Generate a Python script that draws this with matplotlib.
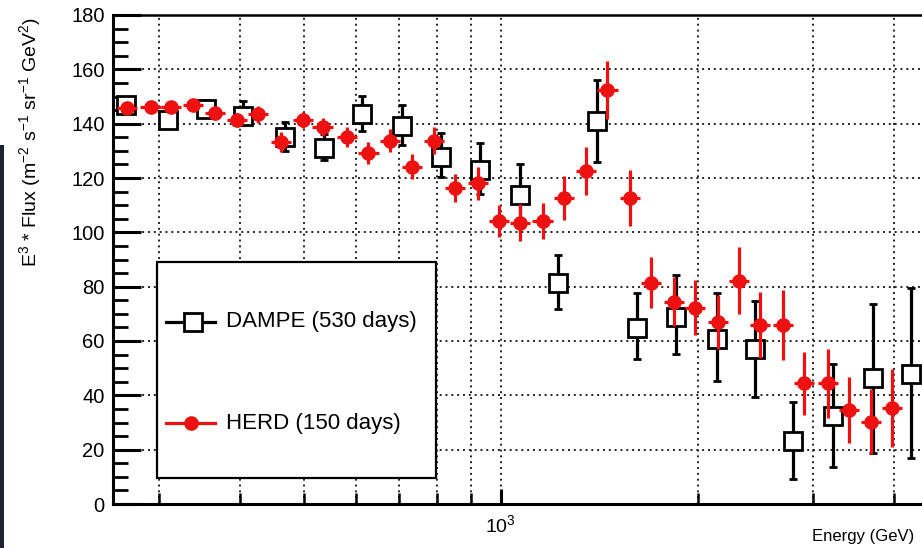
import numpy as np
import matplotlib
matplotlib.use("Agg")
import matplotlib.pyplot as plt
from matplotlib.ticker import FixedLocator, NullFormatter, LogFormatterSciNotation
from matplotlib.lines import Line2D
from matplotlib.patches import Rectangle

plt.rcParams['font.family'] = ['Liberation Sans', 'DejaVu Sans']
plt.rcParams['mathtext.fontset'] = 'custom'
plt.rcParams['mathtext.rm'] = 'Liberation Sans'
plt.rcParams['mathtext.it'] = 'Liberation Sans:italic'
plt.rcParams['mathtext.bf'] = 'Liberation Sans:bold'

# ---------------- data ----------------
dampe_energy = [267.4, 309.9, 354.3, 403.6, 468.0, 536.6, 613.6, 706.6, 810.2, 929.6,
                1070, 1225, 1405, 1618, 1856, 2139, 2448, 2802, 3226, 3706, 4241]
dampe_flux = [147.0, 141.5, 145.4, 143.0, 135.0, 131.2, 143.7, 139.1, 127.8, 123.1,
              113.9, 81.4, 140.9, 64.7, 68.9, 60.9, 57.0, 23.1, 32.5, 46.3, 47.8]
dampe_err_lo = [1.5, 1.0, 3.0, 3.5, 5.0, 4.6, 6.4, 7.0, 7.3, 9.0,
                10.0, 9.7, 15.1, 11.3, 13.7, 15.5, 17.5, 14.0, 18.8, 27.4, 31.0]
dampe_err_hi = [1.5, 1.0, 3.3, 5.3, 5.6, 5.0, 6.5, 7.8, 8.8, 9.7,
                11.1, 10.2, 15.1, 12.9, 15.4, 16.7, 17.8, 14.6, 19.0, 27.3, 31.6]

herd_energy = [268.0, 291.5, 313.3, 338.8, 365.8, 395.6, 426.0, 461.6, 498.0, 534.2,
               581.6, 627.7, 677.2, 730.9, 790.7, 851.4, 924.0, 994.0, 1070, 1159,
               1250, 1350, 1456, 1577, 1696, 1841, 1982, 2147, 2314, 2492,
               2705, 2912, 3162, 3409, 3679, 3970]
herd_flux = [145.6, 146.2, 146.2, 146.9, 143.8, 141.3, 143.4, 133.4, 141.3, 138.7,
             135.2, 129.3, 133.7, 124.2, 133.7, 116.4, 118.0, 104.2, 103.6, 104.2,
             112.7, 122.6, 152.4, 112.7, 81.5, 74.5, 72.3, 67.1, 82.2, 65.9,
             65.9, 44.4, 44.4, 34.6, 30.3, 35.2]
herd_err = [2.0, 2.0, 2.0, 2.0, 2.5, 2.5, 3.0, 3.7, 3.0, 3.4,
            3.7, 4.0, 4.3, 4.6, 5.0, 5.2, 6.0, 5.8, 6.7, 6.7,
            8.0, 8.7, 10.5, 10.3, 9.4, 9.0, 10.0, 10.0, 12.4, 12.0,
            13.0, 11.7, 12.6, 12.3, 12.0, 14.4]
herd_bin_halfwidth_dex = 0.0155

x_major_ticks = [1000]
x_minor_ticks = [300, 400, 500, 600, 700, 800, 900, 2000, 3000, 4000]
y_ticks = [0, 20, 40, 60, 80, 100, 120, 140, 160, 180]

# ---------------- figure ----------------
W, H = 922, 548
fig = plt.figure(figsize=(W / 100, H / 100), dpi=100)
fig.patch.set_facecolor('white')

ax_left, ax_right, ax_top, ax_bottom = 113, 935, 15, 504
ax = fig.add_axes([ax_left / W, (H - ax_bottom) / H,
                   (ax_right - ax_left) / W, (ax_bottom - ax_top) / H])
ax.set_xscale('log')
px_per_dex = 654.0
x_at_1000 = 500.7
ax.set_xlim(1000 * 10 ** ((ax_left - x_at_1000) / px_per_dex),
            1000 * 10 ** ((ax_right - x_at_1000) / px_per_dex))
ax.set_ylim(0, 180)

red = '#ee1111'

dE = np.array(herd_energy)
f = 10 ** herd_bin_halfwidth_dex
ax.errorbar(dampe_energy, dampe_flux, yerr=[dampe_err_lo, dampe_err_hi],
            fmt='s', ms=13, mfc='white', mec='black', mew=2.0,
            ecolor='black', elinewidth=2.3, capsize=3, capthick=2.5, zorder=3)
ax.errorbar(herd_energy, herd_flux, yerr=herd_err,
            xerr=[dE - dE / f, dE * f - dE],
            fmt='o', ms=9.5, color=red, mec=red, elinewidth=2.3, capsize=0, zorder=4)

# axes styling
ax.xaxis.set_major_locator(FixedLocator(x_major_ticks))
ax.xaxis.set_minor_locator(FixedLocator(x_minor_ticks))
ax.xaxis.set_major_formatter(LogFormatterSciNotation())
ax.xaxis.set_minor_formatter(NullFormatter())
ax.yaxis.set_major_locator(FixedLocator(y_ticks))
ax.yaxis.set_minor_locator(FixedLocator([v for v in range(0, 181, 5) if v % 20]))

grid_style = dict(linestyle=(0, (1, 2.0)), color='#222222', linewidth=1.4)
ax.xaxis.grid(True, which='both', **grid_style)
ax.yaxis.grid(True, which='major', **grid_style)
ax.set_axisbelow(True)

ax.tick_params(axis='y', which='major', direction='in', length=20, width=2.2,
               labelsize=14.5, pad=6, colors='black')
ax.tick_params(axis='y', which='minor', direction='in', length=10.5, width=2.0)
ax.tick_params(axis='x', which='major', direction='in', length=11, width=2.2,
               labelsize=14, pad=7)
ax.tick_params(axis='x', which='minor', direction='in', length=8, width=1.8)
ax.tick_params(top=False, right=False, which='both')

for s in ['left', 'bottom']:
    ax.spines[s].set_linewidth(2.2)
ax.spines['top'].set_linewidth(1.8)
ax.spines['right'].set_visible(False)

# legend (drawn manually to match the ROOT-style box)
lx0, lx1 = (157 - ax_left) / 822, (436 - ax_left) / 822
ly0, ly1 = (ax_bottom - 478) / 489, (ax_bottom - 262) / 489
ax.add_patch(Rectangle((lx0, ly0), lx1 - lx0, ly1 - ly0, transform=ax.transAxes,
                       facecolor='white', edgecolor='black', lw=1.6, zorder=6))
xs0, xs1 = (166 - ax_left) / 822, (215 - ax_left) / 822
yd, yh = (ax_bottom - 322) / 489, (ax_bottom - 423) / 489
ax.add_line(Line2D([xs0, xs1], [yd, yd], transform=ax.transAxes, color='black', lw=2.3, zorder=7))
ax.add_line(Line2D([(193 - ax_left) / 822], [yd], transform=ax.transAxes, marker='s', ms=13,
                   mfc='white', mec='black', mew=2.0, zorder=8))
ax.add_line(Line2D([xs0, xs1], [yh, yh], transform=ax.transAxes, color=red, lw=2.3, zorder=7))
ax.add_line(Line2D([(191 - ax_left) / 822], [yh], transform=ax.transAxes, marker='o', ms=9.5,
                   color=red, zorder=8))
tx = (226 - ax_left) / 822
ax.text(tx, yd, 'DAMPE (530 days)', transform=ax.transAxes, fontsize=16,
        va='center', ha='left', zorder=8)
ax.text(tx, yh, 'HERD (150 days)', transform=ax.transAxes, fontsize=16,
        va='center', ha='left', zorder=8)

# axis titles
fig.text(30 / W, 1 - 142 / H,
         r'E$^{3}$ * Flux (m$^{-2}$ s$^{-1}$ sr$^{-1}$ GeV$^{2}$)',
         rotation=90, ha='center', va='center', fontsize=14)
fig.text(812 / W, 1 - 537 / H, 'Energy (GeV)', ha='left', va='center', fontsize=12)

# dark edge on the left of the screenshot
fig.patches.append(Rectangle((0, 0), 4 / W, (H - 145) / H, transform=fig.transFigure,
                             facecolor='#1d2230', edgecolor='none'))

fig.savefig('out.png', dpi=100)
